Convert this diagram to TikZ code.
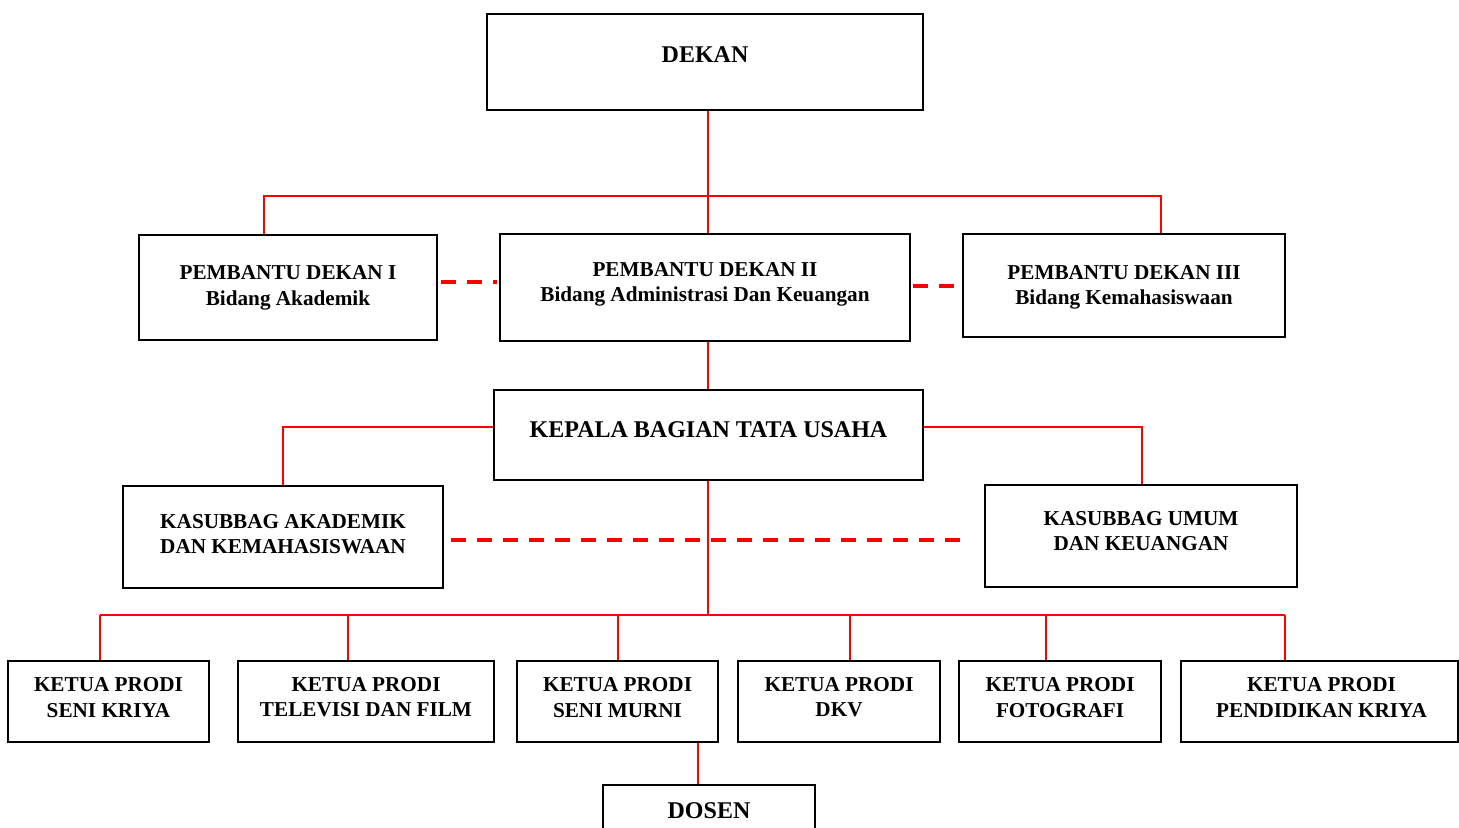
\documentclass[tikz,border=0pt]{standalone}
\usepackage{fontspec}
\setmainfont{Liberation Serif}
\usepackage{xcolor}

\tikzset{
  box/.style={draw=black, line width=1pt, inner sep=0pt},
  lbl/.style={font=\fontsize{10.6}{12.8}\selectfont\bfseries, align=center, inner sep=0pt},
  big/.style={font=\fontsize{12}{14}\selectfont\bfseries, align=center, inner sep=0pt},
  link/.style={draw=red, line width=1.1pt},
  peer/.style={draw=red, line width=1.8pt, dash pattern=on 7.5pt off 5.5pt},
}

\begin{document}
\begin{tikzpicture}[x=0.5pt, y=-0.5pt]
    \useasboundingbox (0,0) rectangle (1459,828);

    % Pimpinan
    \node (dekan) [box, minimum width=218pt, minimum height=48pt, label={[big, yshift=3.5pt]center:DEKAN}] at (705,62) {};
    \node (pd1) [box, minimum width=149pt, minimum height=52.5pt, label={[lbl, yshift=-0.2pt]center:PEMBANTU DEKAN I\\Bidang Akademik}] at (288,287.5) {};
    \node (pd2) [box, minimum width=205pt, minimum height=53.5pt, label={[lbl, yshift=1.6pt]center:PEMBANTU DEKAN II\\Bidang Administrasi Dan Keuangan}] at (705,287.5) {};
    \node (pd3) [box, minimum width=161pt, minimum height=51.5pt, label={[lbl, yshift=-1pt]center:PEMBANTU DEKAN III\\Bidang Kemahasiswaan}] at (1124,285.5) {};

    % Tata usaha
    \node (kabag) [box, minimum width=214.5pt, minimum height=45pt, label={[big, yshift=2.5pt]center:KEPALA BAGIAN TATA USAHA}] at (708.5,435) {};
    \node (ksa) [box, minimum width=160pt, minimum height=51pt, label={[lbl, yshift=1.5pt]center:KASUBBAG AKADEMIK\\DAN KEMAHASISWAAN}] at (283,537) {};
    \node (ksu) [box, minimum width=156pt, minimum height=51pt, label={[lbl, yshift=2.5pt]center:KASUBBAG UMUM\\DAN KEUANGAN}] at (1141,536) {};

    % Program studi
    \node (sk) [box, minimum width=100.5pt, minimum height=40.5pt, label={[lbl, yshift=2.1pt]center:KETUA PRODI\\SENI KRIYA}] at (108.5,701.5) {};
    \node (tv) [box, minimum width=128pt, minimum height=40.5pt, label={[lbl, yshift=2.1pt]center:KETUA PRODI\\TELEVISI DAN FILM}] at (366,701.5) {};
    \node (sm) [box, minimum width=100.5pt, minimum height=40.5pt, label={[lbl, yshift=2.1pt]center:KETUA PRODI\\SENI MURNI}] at (617.5,701.5) {};
    \node (dkv) [box, minimum width=101pt, minimum height=40.5pt, label={[lbl, yshift=2.1pt]center:KETUA PRODI\\DKV}] at (839,701.5) {};
    \node (foto) [box, minimum width=101pt, minimum height=40.5pt, label={[lbl, yshift=2.1pt]center:KETUA PRODI\\FOTOGRAFI}] at (1060,701.5) {};
    \node (pk) [box, minimum width=138.5pt, minimum height=40.5pt, label={[lbl, yshift=2.1pt, xshift=1pt]center:KETUA PRODI\\PENDIDIKAN KRIYA}] at (1319.5,701.5) {};

    % Dosen
    \node (dosen) [box, minimum width=106pt, minimum height=40pt, label={[big, yshift=7pt]center:DOSEN}] at (709,825) {};

    % Garis komando
    \coordinate (j1) at (708,196);
    \coordinate (j1l) at (264,196);
    \coordinate (j1r) at (1161,196);
    \draw[link] (j1 |- dekan.south) -- (j1 |- pd2.north);
    \draw[link] (j1l |- pd1.north) -- (j1l) -- (j1r) -- (j1r |- pd3.north);
    \draw[link] (j1 |- pd2.south) -- (j1 |- kabag.north);
    \draw[link] ([shift={(0,-8)}]kabag.west) -| (ksa.north);
    \draw[link] ([shift={(0,-8)}]kabag.east) -| ([xshift=0.5pt]ksu.north);

    \coordinate (j2) at (708,615);
    \draw[link] (j2 |- kabag.south) -- (j2);
    \foreach \n/\x in {sk/100, tv/348, sm/618, dkv/850, foto/1046, pk/1285} {
        \coordinate (b\n) at (\x,615);
        \draw[link] (b\n) -- (b\n |- \n.north);
    }
    \draw[link] (bsk) -- (bpk);

    \coordinate (d) at (698,760);
    \draw[link] (d |- sm.south) -- (d |- dosen.north);

    % Garis koordinasi
    \draw[peer] ([shift={(3,-5.5)}]pd1.east) -- ([shift={(-2,-5.5)}]pd2.west);
    \draw[peer] ([shift={(2,-1.5)}]pd2.east) -- ([shift={(-3,0.5)}]pd3.west);
    \draw[peer] ([shift={(7,3)}]ksa.east) -- ([shift={(-15,4)}]ksu.west);
\end{tikzpicture}
\end{document}
